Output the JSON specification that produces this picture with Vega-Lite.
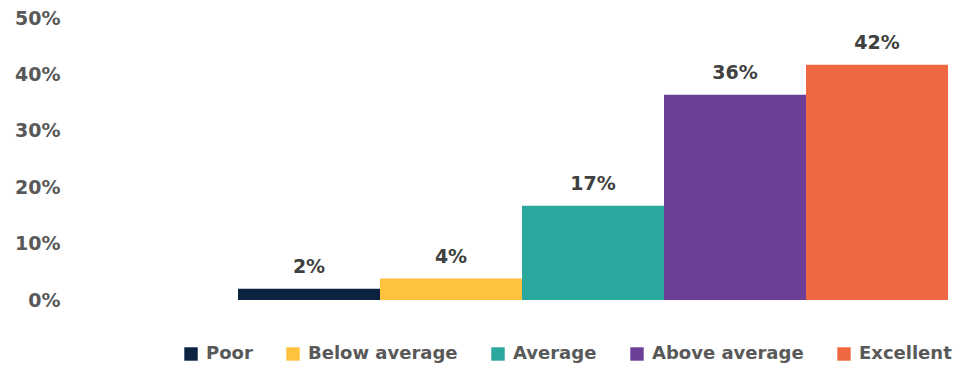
{
  "$schema": "https://vega.github.io/schema/vega-lite/v6.json",
  "width": 852,
  "height": 282,
  "autosize": {"type": "none"},
  "padding": {"left": 96, "top": 18, "right": 9, "bottom": 66},
  "background": "white",
  "config": {"view": {"stroke": null}},
  "data": {
    "values": [
      {"rating": "Poor", "share": 0.02},
      {"rating": "Below average", "share": 0.038},
      {"rating": "Average", "share": 0.167},
      {"rating": "Above average", "share": 0.364},
      {"rating": "Excellent", "share": 0.417}
    ]
  },
  "encoding": {
    "x": {
      "field": "rating",
      "type": "nominal",
      "scale": {
        "domain": [" ", "Poor", "Below average", "Average", "Above average", "Excellent"],
        "paddingInner": 0,
        "paddingOuter": 0
      },
      "axis": null
    },
    "y": {
      "field": "share",
      "type": "quantitative",
      "scale": {"domain": [0, 0.5]},
      "axis": {
        "values": [0, 0.1, 0.2, 0.3, 0.4, 0.5],
        "format": ".0%",
        "title": null,
        "domain": false,
        "ticks": false,
        "grid": false,
        "labelPadding": 36,
        "labelFont": "DejaVu Sans",
        "labelFontWeight": "bold",
        "labelFontSize": 19,
        "labelColor": "#595959"
      }
    }
  },
  "layer": [
    {
      "mark": {"type": "bar"},
      "encoding": {
        "color": {
          "field": "rating",
          "type": "nominal",
          "scale": {
            "domain": ["Poor", "Below average", "Average", "Above average", "Excellent"],
            "range": ["#0B2341", "#FFC23F", "#2AA89D", "#6B3F97", "#F06842"]
          },
          "legend": {
            "title": null,
            "orient": "none",
            "direction": "horizontal",
            "legendX": 86,
            "legendY": 327,
            "symbolType": "square",
            "symbolSize": 180,
            "symbolStrokeWidth": 0,
            "labelOffset": 6,
            "columnPadding": 31,
            "labelFont": "DejaVu Sans",
            "labelFontWeight": "bold",
            "labelFontSize": 18,
            "labelColor": "#595959",
            "labelLimit": 400
          }
        }
      }
    },
    {
      "mark": {
        "type": "text",
        "baseline": "alphabetic",
        "dy": -16,
        "font": "DejaVu Sans",
        "fontWeight": "bold",
        "fontSize": 19,
        "color": "#404040"
      },
      "encoding": {
        "text": {"field": "share", "type": "quantitative", "format": ".0%"}
      }
    }
  ]
}
